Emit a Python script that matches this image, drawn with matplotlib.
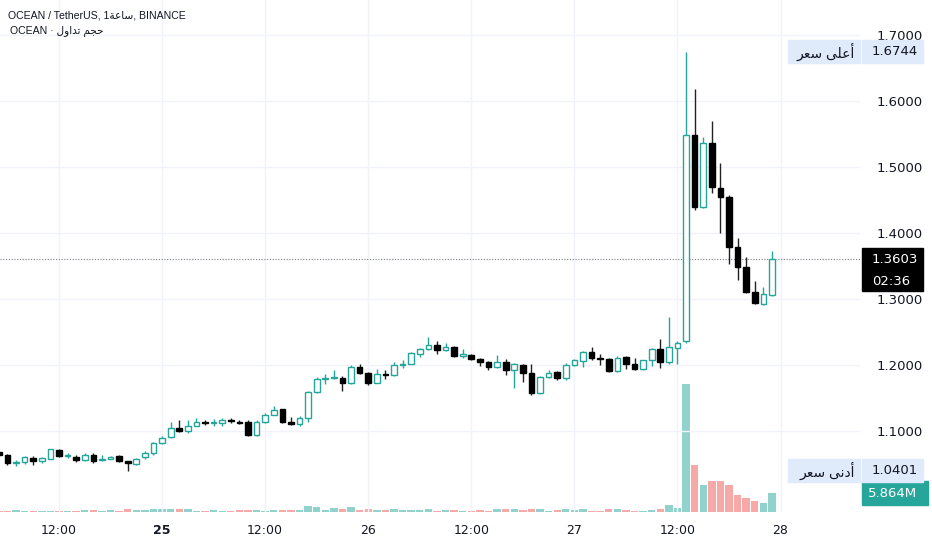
import numpy as np
import pandas as pd
import matplotlib
matplotlib.use("Agg")
import matplotlib.pyplot as plt
from matplotlib.patches import Rectangle
from matplotlib.transforms import blended_transform_factory

# hourly candles, 24th 05:00 -> 27th 23:00
times = pd.date_range("2024-03-24 05:00", "2024-03-27 23:00", freq="h")

opens = [1.068, 1.064, 1.051, 1.053, 1.059, 1.054, 1.058, 1.071, 1.062, 1.061,
         1.056, 1.064, 1.056, 1.058, 1.062, 1.054, 1.050, 1.060, 1.066, 1.082,
         1.091, 1.105, 1.100, 1.108, 1.113, 1.112, 1.112, 1.116, 1.114, 1.114,
         1.094, 1.113, 1.125, 1.133, 1.114, 1.111, 1.120, 1.159, 1.179, 1.180,
         1.181, 1.172, 1.197, 1.188, 1.173, 1.186, 1.185, 1.200, 1.202, 1.217,
         1.224, 1.230, 1.223, 1.227, 1.214, 1.215, 1.209, 1.204, 1.197, 1.204,
         1.193, 1.200, 1.188, 1.158, 1.182, 1.189, 1.180, 1.200, 1.206, 1.219,
         1.210, 1.209, 1.191, 1.212, 1.201, 1.194, 1.207, 1.224, 1.205, 1.226,
         1.236, 1.549, 1.440, 1.536, 1.468, 1.455, 1.379, 1.349, 1.310, 1.293,
         1.306]
highs = [1.070, 1.065, 1.056, 1.062, 1.062, 1.061, 1.073, 1.073, 1.066, 1.063,
         1.066, 1.067, 1.064, 1.062, 1.063, 1.055, 1.059, 1.070, 1.084, 1.093,
         1.114, 1.117, 1.116, 1.120, 1.117, 1.118, 1.119, 1.119, 1.116, 1.117,
         1.116, 1.128, 1.138, 1.134, 1.121, 1.123, 1.160, 1.182, 1.186, 1.193,
         1.183, 1.200, 1.201, 1.190, 1.194, 1.193, 1.205, 1.208, 1.220, 1.226,
         1.242, 1.236, 1.234, 1.229, 1.224, 1.217, 1.211, 1.206, 1.215, 1.209,
         1.203, 1.201, 1.201, 1.184, 1.192, 1.191, 1.203, 1.209, 1.221, 1.228,
         1.216, 1.211, 1.214, 1.214, 1.210, 1.208, 1.226, 1.239, 1.272, 1.236,
         1.6744, 1.618, 1.545, 1.569, 1.506, 1.457, 1.393, 1.363, 1.328, 1.318,
         1.373]
lows = [1.062, 1.049, 1.047, 1.050, 1.049, 1.052, 1.057, 1.061, 1.059, 1.053,
        1.055, 1.052, 1.055, 1.057, 1.053, 1.0401, 1.049, 1.058, 1.064, 1.081,
        1.090, 1.099, 1.097, 1.107, 1.109, 1.108, 1.107, 1.112, 1.110, 1.093,
        1.093, 1.112, 1.124, 1.112, 1.109, 1.108, 1.114, 1.157, 1.171, 1.179,
        1.161, 1.171, 1.186, 1.169, 1.172, 1.179, 1.184, 1.195, 1.201, 1.212,
        1.223, 1.217, 1.221, 1.212, 1.210, 1.207, 1.199, 1.193, 1.195, 1.185,
        1.165, 1.175, 1.155, 1.156, 1.180, 1.177, 1.178, 1.199, 1.197, 1.208,
        1.200, 1.189, 1.190, 1.194, 1.192, 1.192, 1.199, 1.196, 1.201, 1.201,
        1.234, 1.435, 1.438, 1.461, 1.400, 1.353, 1.329, 1.309, 1.292, 1.291,
        1.304]
closes = [1.064, 1.051, 1.053, 1.060, 1.054, 1.059, 1.072, 1.062, 1.063, 1.056,
          1.064, 1.055, 1.058, 1.061, 1.054, 1.051, 1.058, 1.066, 1.082, 1.090,
          1.105, 1.100, 1.108, 1.113, 1.1125, 1.113, 1.117, 1.1155, 1.112, 1.094,
          1.114, 1.125, 1.132, 1.113, 1.111, 1.120, 1.159, 1.179, 1.180, 1.181,
          1.172, 1.197, 1.188, 1.173, 1.186, 1.185, 1.200, 1.202, 1.218, 1.224,
          1.230, 1.223, 1.228, 1.214, 1.216, 1.209, 1.204, 1.197, 1.204, 1.193,
          1.201, 1.188, 1.158, 1.182, 1.188, 1.180, 1.200, 1.207, 1.219, 1.210,
          1.209, 1.191, 1.211, 1.202, 1.194, 1.207, 1.224, 1.204, 1.227, 1.234,
          1.549, 1.440, 1.536, 1.469, 1.455, 1.379, 1.349, 1.310, 1.294, 1.307,
          1.3603]
# volume in millions
volumes = [0.4, 0.4, 0.73, 0.42, 0.42, 0.4, 0.4, 0.4, 0.4, 0.4,
           0.6, 0.6, 0.4, 0.6, 0.4, 0.85, 0.6, 0.6, 0.85, 0.85,
           0.85, 0.85, 0.85, 0.4, 0.4, 0.6, 0.4, 0.4, 0.6, 0.6,
           0.6, 0.4, 0.6, 0.6, 0.6, 0.6, 1.9, 1.67, 0.5, 1.25,
           0.85, 1.46, 0.6, 0.85, 0.6, 0.6, 0.85, 0.6, 0.6, 0.63,
           0.84, 0.42, 0.52, 0.52, 0.31, 0.31, 0.52, 0.31, 0.84, 0.84,
           1.05, 0.63, 1.05, 0.84, 0.31, 0.52, 0.84, 0.63, 0.84, 0.31,
           0.42, 0.84, 0.84, 0.52, 0.31, 0.31, 0.52, 1.05, 2.3, 1.25,
           40.0, 14.6, 8.6, 9.7, 9.7, 8.4, 5.4, 4.5, 3.55, 2.9,
           5.864]

price_ticks = [1.1, 1.2, 1.3, 1.4, 1.5, 1.6, 1.7]
tick_times = pd.date_range("2024-03-24 12:00", "2024-03-28 00:00", freq="12h")

title_text = "OCEAN / TetherUS, 1\ufe94\ufecb\ufe8e\ufeb3, BINANCE"
vol_title = "OCEAN \u00b7 \ufedd\ufeed\ufe8d\ufeaa\ufe97 \ufee2\ufea0\ufea3"
high_text = "\ufeae\ufecc\ufeb3 \ufef0\ufee0\ufecb\ufe83"
low_text = "\ufeae\ufecc\ufeb3 \ufef0\ufee7\ufea9\ufe83"
countdown = "02:36"

GREEN = "#26a69a"
BLACK = "#000000"
VOL_UP = "#92d2cc"
VOL_DN = "#f7a9a7"
GRID = "#f0f3fa"
TXT = "#131722"
FONTS = ["Liberation Sans", "DejaVu Sans"]

o = np.array(opens); h = np.array(highs); l = np.array(lows); c = np.array(closes)
base = times[0].normalize()
x = np.asarray((times - base) / pd.Timedelta(hours=1))
up = c >= o

fig = plt.figure(figsize=(9.32, 5.5), dpi=100)
ax = fig.add_axes([0, 38 / 550, 860 / 932, 512 / 550])
ax2 = ax.twinx()
ax.set_zorder(ax2.get_zorder() + 1)
ax.patch.set_visible(False)

# volume overlay
ax2.bar(x, volumes, width=0.86, color=np.where(up, VOL_UP, VOL_DN), zorder=1)
ax2.set_ylim(0, 160.4)
ax2.axis("off")

# candles
ax.vlines(x, l, h, colors=np.where(up, GREEN, "#222222"), linewidth=1, zorder=2)
body_lo = np.minimum(o, c)
body_h = np.maximum(np.abs(c - o), 0.0014)
ax.bar(x, body_h, bottom=body_lo, width=0.66,
       color=np.where(up, "white", BLACK), edgecolor=np.where(up, GREEN, BLACK),
       linewidth=1, zorder=3)

ax.set_xlim(5.13, 105.25)
ax.set_ylim(0.9773, 1.753)
for t in price_ticks:
    ax.axhline(t, color=GRID, lw=1, zorder=0)
tick_x = np.asarray((tick_times - base) / pd.Timedelta(hours=1))
for tx in tick_x:
    ax.axvline(tx, color=GRID, lw=1, zorder=0)

ax.yaxis.tick_right()
ax.set_yticks(price_ticks)
ax.set_yticklabels([f"{t:.4f}" for t in price_ticks])
ax.set_xticks(tick_x)
labels = ["12:00" if t.hour == 12 else str(t.day) for t in tick_times]
ax.set_xticklabels(labels)
for lab, t in zip(ax.get_xticklabels(), tick_times):
    if t.day == 25 and t.hour == 0:
        lab.set_fontweight("bold")
ax.tick_params(axis="y", length=0, pad=12, labelsize=9.5, labelcolor=TXT)
ax.tick_params(axis="x", length=0, pad=9, labelsize=9, labelcolor=TXT)
for s in ax.spines.values():
    s.set_visible(False)

# last price line
ax.axhline(c[-1], color="#787b86", lw=0.8, linestyle=(0, (1, 1.5)), zorder=1)

ppx = (1.753 - 0.9773) / 512  # price per pixel
tr = blended_transform_factory(ax.transAxes, ax.transData)
xr = 1 / 860  # axes fraction per pixel

def side_label(price, left_text, right_text):
    hh = 23 * ppx
    ax.add_patch(Rectangle((788 * xr, price - hh / 2), 72 * xr, hh, transform=tr,
                           color="#dfeafb", clip_on=False, zorder=5))
    ax.add_patch(Rectangle((862 * xr, price - hh / 2), 61 * xr, hh, transform=tr,
                           color="#dfeafb", clip_on=False, zorder=5))
    ax.text(855 * xr, price, left_text, transform=tr, ha="right", va="center",
            fontsize=10, color=TXT, family=FONTS, zorder=6, clip_on=False)
    ax.text(872 * xr, price, right_text, transform=tr, ha="left", va="center",
            fontsize=9.5, color=TXT, zorder=6, clip_on=False)

side_label(max(highs), high_text, f"{max(highs):.4f}")
side_label(min(lows), low_text, f"{min(lows):.4f}")

# current price box
top = c[-1] + 11 * ppx
ax.add_patch(Rectangle((862 * xr, top - 43 * ppx), 61 * xr, 43 * ppx, transform=tr,
                       color="black", clip_on=False, zorder=5))
ax.text(872 * xr, c[-1], f"{c[-1]:.4f}", transform=tr, ha="left", va="center",
        fontsize=9.5, color="white", zorder=6, clip_on=False)
ax.text(872 * xr, c[-1] - 22 * ppx, countdown, transform=tr, ha="left", va="center",
        fontsize=9.5, color="white", zorder=6, clip_on=False)

# last volume box
vpx = 160.4 / 512
tr2 = blended_transform_factory(ax2.transAxes, ax2.transData)
vlast = volumes[-1]
ax2.add_patch(Rectangle((862 * xr, vlast - 12 * vpx), 66 * xr, 24 * vpx, transform=tr2,
                        color=GREEN, clip_on=False, zorder=5))
ax2.text(868 * xr, vlast, f"{vlast:.3f}M", transform=tr2, ha="left", va="center",
         fontsize=9.5, color="white", zorder=6, clip_on=False)

# legend texts
fig.text(8 / 932, 1 - 15 / 550, title_text, ha="left", va="center",
         fontsize=7.6, color=TXT, family=FONTS)
fig.text(10 / 932, 1 - 31 / 550, vol_title, ha="left", va="center",
         fontsize=7.6, color=TXT, family=FONTS)

fig.savefig("out.png", dpi=100)
